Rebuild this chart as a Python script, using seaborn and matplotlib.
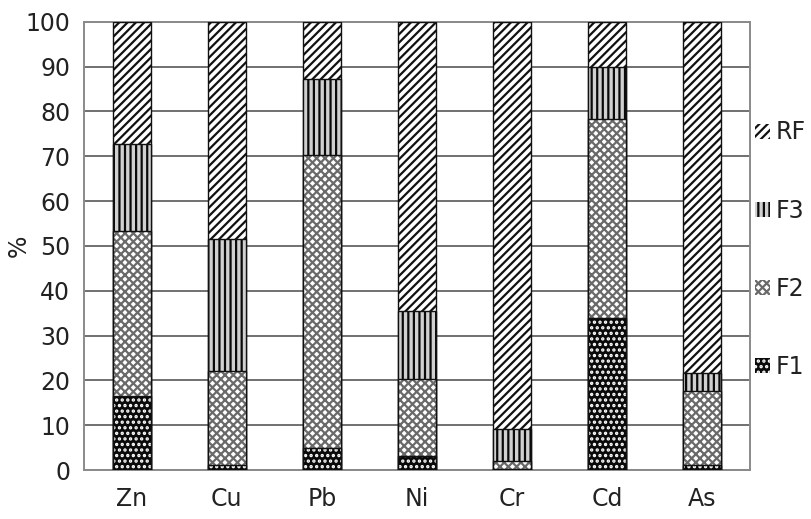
import matplotlib
matplotlib.use("Agg")
import matplotlib.pyplot as plt
from matplotlib.patches import Rectangle, Patch
import seaborn as sns
import numpy as np
import pandas as pd

# ---- data (percent) ----
elements = ["Zn", "Cu", "Pb", "Ni", "Cr", "Cd", "As"]
F1 = [16.4, 1.1, 4.8, 3.2, 0.3, 33.9, 1.2]
F2 = [37.0, 20.9, 65.5, 17.0, 1.8, 44.3, 16.4]
F3 = [19.4, 29.6, 16.9, 15.2, 7.0, 11.8, 4.1]
RF = [27.2, 48.4, 12.8, 64.6, 90.9, 10.0, 78.3]
series_names = ["F1", "F2", "F3", "RF"]
yticks = list(range(0, 101, 10))

sns.set_theme(style="white")
plt.rcParams["font.family"] = ["DejaVu Sans"]
plt.rcParams["hatch.linewidth"] = 1.6

fig = plt.figure(figsize=(8.11, 5.19), dpi=100)
ax = fig.add_axes([0.1036, 0.0944, 0.8212, 0.8637])

# styles: face, hatch colour, hatch
styles = {
    "F1": ("#0a0a0a", "white", "..."),
    "F2": ("white", "#6a6a6a", "xxxx"),
    "F3": ("#d0d0d0", "#0a0a0a", "|||"),
    "RF": ("white", "#111111", "////"),
}

data = pd.DataFrame({"element": elements, "F1": F1, "F2": F2, "F3": F3, "RF": RF})
cum = data[series_names].cumsum(axis=1)

# draw tallest cumulative layer first, then overlap with lower ones
for k, name in enumerate(reversed(series_names)):
    face, hcol, hatch = styles[name]
    n_before = len(ax.patches)
    sns.barplot(x=data["element"], y=cum[name], order=elements, color=face,
                saturation=1, width=0.4, edgecolor=hcol, linewidth=0,
                hatch=hatch, ax=ax, zorder=3 + k, errorbar=None)
    new = ax.patches[n_before:]
    for p in new:
        p.set_facecolor(face)
        p.set_zorder(3 + k)
        ax.add_patch(Rectangle((p.get_x(), p.get_y()), p.get_width(), p.get_height(),
                               fill=False, edgecolor="#111111", linewidth=1.0,
                               zorder=3 + k + 0.5))

ax.set_xlim(-0.5, len(elements) - 0.5)
ax.set_ylim(0, 100)
ax.set_yticks(yticks)
ax.set_yticklabels([str(t) for t in yticks])
ax.yaxis.grid(True, color="#707070", linewidth=1.4)
ax.set_axisbelow(True)
for s in ax.spines.values():
    s.set_visible(True)
    s.set_color("#8a8a8a")
    s.set_linewidth(1.4)
ax.tick_params(axis="both", length=0, labelsize=17, colors="#222222")
ax.tick_params(axis="x", pad=12)
ax.tick_params(axis="y", pad=10)
ax.set_xlabel("")
ax.set_ylabel("%", fontsize=17, color="#222222")
ax.yaxis.set_label_coords(-0.08, 0.5)

handles = []
for name in reversed(series_names):
    face, hcol, hatch = styles[name]
    handles.append(Patch(facecolor=face, edgecolor=hcol, hatch=hatch, linewidth=0))
leg = ax.legend(handles, list(reversed(series_names)), loc="upper left",
                bbox_to_anchor=(1.008, 0.78), frameon=False, fontsize=17,
                handlelength=0.6, handleheight=0.6, handletextpad=0.25,
                labelspacing=2.3, borderpad=0, borderaxespad=0)
for t in leg.get_texts():
    t.set_color("#222222")

fig.savefig("out.png", dpi=100)
